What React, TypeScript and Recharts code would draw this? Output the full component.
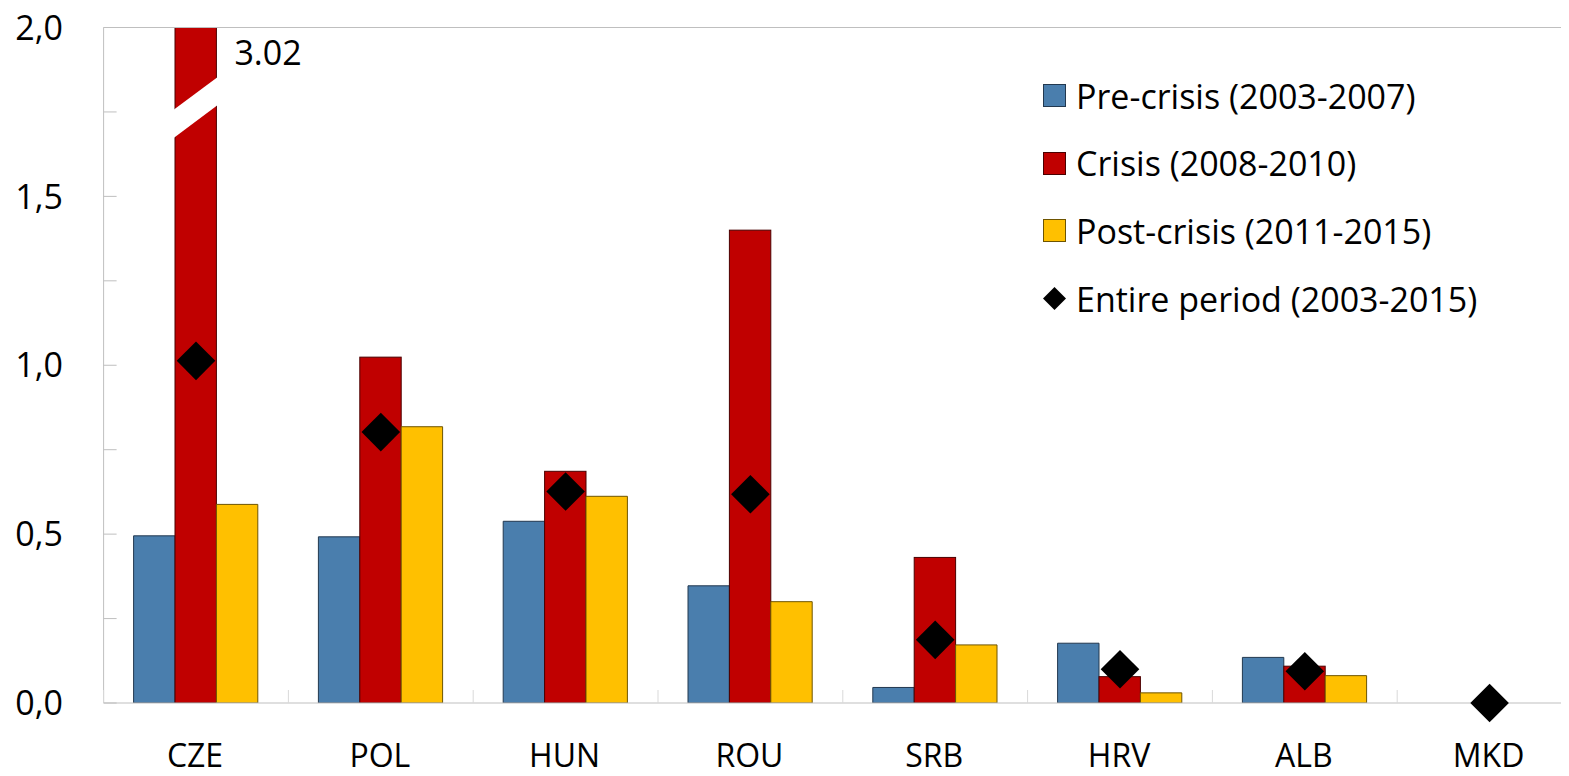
import React from 'react';
import { ComposedChart, Bar, Line, XAxis, YAxis, ReferenceLine, LabelList, Legend } from 'recharts';

const categories = ['CZE', 'POL', 'HUN', 'ROU', 'SRB', 'HRV', 'ALB', 'MKD'];
const preCrisis = [0.495, 0.492, 0.538, 0.347, 0.046, 0.177, 0.135, 0];
const crisis = [3.02, 1.024, 0.686, 1.4, 0.431, 0.078, 0.109, 0];
const postCrisis = [0.588, 0.818, 0.612, 0.3, 0.172, 0.03, 0.081, 0];
const entirePeriod = [1.013, 0.802, 0.626, 0.618, 0.187, 0.1, 0.094, 0];
const yTicks = [0, 0.25, 0.5, 0.75, 1, 1.25, 1.5, 1.75, 2];
const seriesNames = [
  'Pre-crisis (2003-2007)',
  'Crisis (2008-2010)',
  'Post-crisis (2011-2015)',
  'Entire period (2003-2015)',
];
const Y_MAX = 2;

const data = categories.map((c, i) => ({
  name: c,
  pre: preCrisis[i],
  crisis: crisis[i],
  post: postCrisis[i],
  entire: entirePeriod[i],
}));

const FONT = '"Open Sans", "Noto Sans", sans-serif';
const WIDTH = 1582;
const HEIGHT = 776;
const MARGIN = { top: 27.5, right: 0, left: 0, bottom: 0 };
const Y_AXIS_W = 103.6;
const X_AXIS_H = 73;
const BAND = (WIDTH - Y_AXIS_W) / categories.length;
const AXIS_GRAY = '#BFBFBF';
const COLORS = ['#4A7EAD', '#C00000', '#FFC000', '#000000'];
const STROKES = ['#22384F', '#4A0000', '#6E5400'];

const YTick = (props: any) => {
  const { x, y, payload } = props;
  const v = payload.value as number;
  const major = Math.abs(v * 2 - Math.round(v * 2)) < 1e-6;
  return (
    <g>
      <line x1={x} x2={x + 13} y1={y} y2={y} stroke={AXIS_GRAY} strokeWidth={1} />
      {major && (
        <text x={x - 40.6} y={y} dy="0.357em" textAnchor="end" fontSize={34} fontFamily={FONT} fill="#000">
          {v.toFixed(1).replace('.', ',')}
        </text>
      )}
    </g>
  );
};

const XTick = (props: any) => {
  const { x, y, payload } = props;
  return (
    <g>
      <line x1={x - BAND / 2} x2={x - BAND / 2} y1={y} y2={y - 13} stroke="#D9D9D9" strokeWidth={1} />
      <text x={x - 1} y={y + 64} textAnchor="middle" fontSize={32} fontFamily={FONT} fill="#000">
        {payload.value}
      </text>
    </g>
  );
};

const CrisisShape = (props: any) => {
  const { x, y, width, height } = props;
  if (!height || height <= 0) return null;
  const top = Math.max(y, MARGIN.top);
  const bottom = y + height;
  const broken = y < MARGIN.top - 0.5;
  const s = 0.73;
  return (
    <g>
      <rect x={x} y={top} width={width} height={bottom - top} fill={COLORS[1]} stroke={STROKES[1]} strokeWidth={1} />
      {broken && (
        <polygon
          points={`${x - 1},${top + 81.2 + s} ${x + width + 1},${top + 50.5 - s} ${x + width + 1},${top + 78.5 - s} ${x - 1},${top + 109.5 + s}`}
          fill="#FFFFFF"
        />
      )}
    </g>
  );
};

const BreakLabel = (props: any) => {
  const { x, width, value } = props;
  if (value == null || Number(value) <= Y_MAX) return null;
  return (
    <text x={x + width + 18} y={MARGIN.top + 37.5} fontSize={34} fontFamily={FONT} fill="#000">
      {Number(value).toFixed(2)}
    </text>
  );
};

const Diamond = (props: any) => {
  const { cx, cy, index } = props;
  if (cx == null || cy == null) return <g key={`d-${index}`} />;
  const r = 19.3;
  return (
    <polygon
      key={`d-${index}`}
      points={`${cx},${cy - r} ${cx + r},${cy} ${cx},${cy + r} ${cx - r},${cy}`}
      fill={COLORS[3]}
    />
  );
};

const LegendContent = () => (
  <div style={{ fontFamily: FONT, fontSize: 34, color: '#000' }}>
    {seriesNames.map((n, i) => (
      <div key={n} style={{ display: 'flex', alignItems: 'center', height: 67.6, whiteSpace: 'nowrap' }}>
        <svg width={23} height={23} style={{ display: 'block', flex: 'none' }}>
          {i < 3 ? (
            <rect x={0.5} y={0.5} width={22} height={22} fill={COLORS[i]} stroke={STROKES[i]} strokeWidth={1} />
          ) : (
            <polygon points="11.5,0 23,11.5 11.5,23 0,11.5" fill="#000" />
          )}
        </svg>
        <span style={{ marginLeft: 10 }}>{n}</span>
      </div>
    ))}
  </div>
);

export default function App() {
  return (
    <div
      style={{
        width: 1569,
        height: HEIGHT,
        margin: '-8px 0 -8px -8px',
        overflow: 'hidden',
        position: 'relative',
        fontFamily: FONT,
      }}
    >
      <ComposedChart width={WIDTH} height={HEIGHT} data={data} margin={MARGIN} barGap={0} barCategoryGap={0}>
        <XAxis
          dataKey="name"
          height={X_AXIS_H}
          tickLine={false}
          tickSize={0}
          tickMargin={0}
          tick={<XTick />}
          axisLine={{ stroke: AXIS_GRAY, strokeWidth: 1 }}
          interval={0}
        />
        <YAxis
          yAxisId="main"
          width={Y_AXIS_W}
          domain={[0, Y_MAX]}
          ticks={yTicks}
          allowDataOverflow
          tickLine={false}
          tickSize={0}
          tickMargin={0}
          tick={<YTick />}
          axisLine={{ stroke: AXIS_GRAY, strokeWidth: 1 }}
          interval={0}
        />
        <YAxis yAxisId="marker" hide domain={[0, Y_MAX]} />
        <ReferenceLine yAxisId="main" y={Y_MAX} stroke={AXIS_GRAY} strokeWidth={1} ifOverflow="visible" />
        <Bar yAxisId="main" dataKey="pre" name={seriesNames[0]} fill={COLORS[0]} stroke={STROKES[0]} strokeWidth={1} barSize={41.4} isAnimationActive={false} />
        <Bar yAxisId="main" dataKey="crisis" name={seriesNames[1]} fill={COLORS[1]} barSize={41.4} shape={<CrisisShape />} isAnimationActive={false}>
          <LabelList dataKey="crisis" content={<BreakLabel />} />
        </Bar>
        <Bar yAxisId="main" dataKey="post" name={seriesNames[2]} fill={COLORS[2]} stroke={STROKES[2]} strokeWidth={1} barSize={41.4} isAnimationActive={false} />
        <Line
          yAxisId="marker"
          dataKey="entire"
          name={seriesNames[3]}
          stroke="none"
          dot={Diamond}
          activeDot={false}
          isAnimationActive={false}
        />
        <Legend
          layout="vertical"
          align="center"
          verticalAlign="middle"
          content={<LegendContent />}
          wrapperStyle={{ left: 1043, top: 62, width: 'auto', height: 'auto' }}
        />
      </ComposedChart>
    </div>
  );
}
